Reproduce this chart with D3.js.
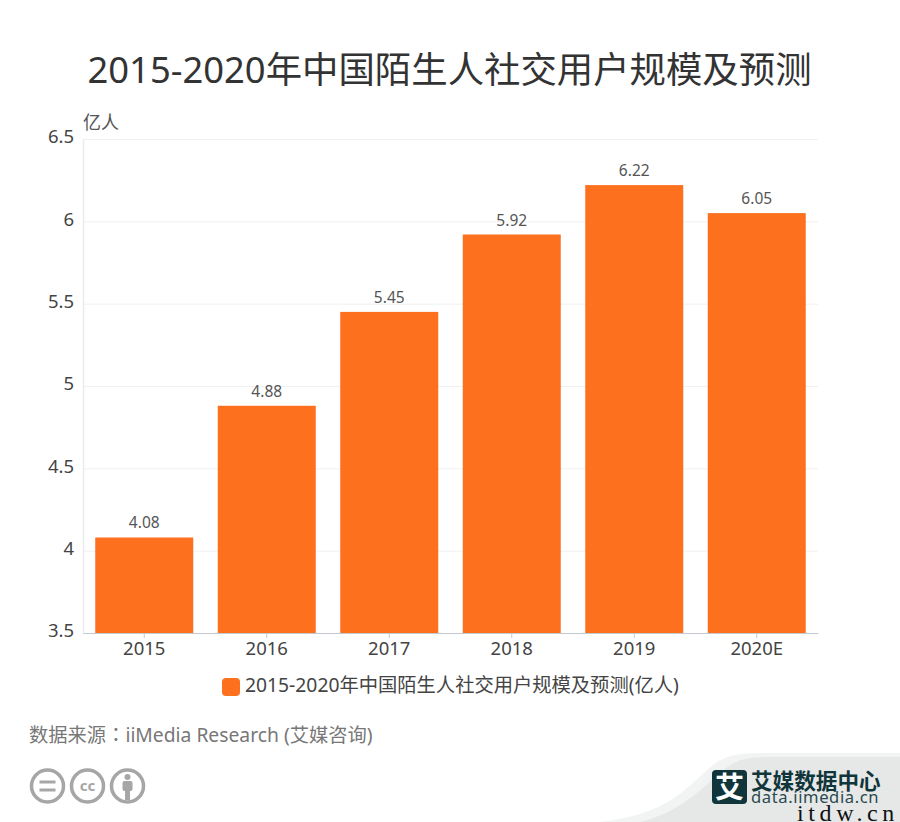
<!DOCTYPE html>
<html>
<head>
<meta charset="utf-8">
<style>
  html, body { margin: 0; padding: 0; background: #fff; overflow: hidden; }
  text { font-family: "Noto Sans", "Noto Sans CJK SC", sans-serif; }
</style>
<script src="https://cdn.jsdelivr.net/npm/d3@7/dist/d3.min.js"></script>
</head>
<body>
<svg id="chart"></svg>
<script>
const categories = ["2015", "2016", "2017", "2018", "2019", "2020E"];
const users = [4.08, 4.88, 5.45, 5.92, 6.22, 6.05];
const yTicks = [3.5, 4, 4.5, 5, 5.5, 6, 6.5];
const titleText = "2015-2020年中国陌生人社交用户规模及预测";
const legendText = "2015-2020年中国陌生人社交用户规模及预测(亿人)";
const unitText = "亿人";
const sourceLabel = "数据来源";
const sourceName = "iiMedia Research (艾媒咨询)";

var svgWidth = 900, svgHeight = 822;
var margin = { top: 139, right: 82, bottom: 189, left: 83 };
var width = svgWidth - margin.left - margin.right;
var height = svgHeight - margin.top - margin.bottom;

var svg = d3.select("#chart")
    .attr("width", svgWidth)
    .attr("height", svgHeight)
    .style("display", "block");

// footer swoosh goes under everything else
svg.append("path")
    .attr("fill", "#f2f3f3")
    .attr("d", "M600,822 C660,815 680,795 705,772 C720,758 730,753 760,753 L900,753 L900,822 Z");
svg.append("path")
    .attr("fill", "#e6e8e8")
    .attr("d", "M640,822 C680,812 700,790 720,773 C735,760 745,757 770,757 L900,757 L900,822 Z");

svg.append("text")
    .attr("x", 449.5)
    .attr("y", 83)
    .attr("text-anchor", "middle")
    .attr("font-size", 36.4)
    .attr("fill", "#333")
    .text(titleText);

var g = svg.append("g")
    .attr("transform", "translate(" + margin.left + "," + margin.top + ")");

var x = d3.scaleBand()
    .domain(categories)
    .range([0, width])
    .paddingInner(0.2)
    .paddingOuter(0.1);

var y = d3.scaleLinear()
    .domain([3.5, 6.5])
    .range([height, 0]);

// gridlines
g.append("g")
    .selectAll("line")
    .data(yTicks.slice(1))
    .join("line")
    .attr("x1", 0)
    .attr("x2", width)
    .attr("y1", d => y(d) + 0.5)
    .attr("y2", d => y(d) + 0.5)
    .attr("stroke", "#f0f0f0");

// y axis
var yAxis = g.append("g")
    .call(d3.axisLeft(y).tickValues(yTicks).tickFormat(d3.format("")).tickSize(0).tickPadding(9));
yAxis.select(".domain").attr("stroke", "#ebebeb").attr("stroke-width", 1.5);
yAxis.selectAll("text")
    .attr("font-size", 18.5)
    .attr("fill", "#444")
    .attr("dy", "0.2em")
    .style("font-family", '"Noto Sans", sans-serif');

// bars
g.append("g")
    .selectAll("rect")
    .data(users)
    .join("rect")
    .attr("x", (d, i) => x(categories[i]))
    .attr("y", d => y(d))
    .attr("width", x.bandwidth())
    .attr("height", d => height - y(d))
    .attr("fill", "#fc701e");

// value labels
g.append("g")
    .selectAll("text")
    .data(users)
    .join("text")
    .attr("x", (d, i) => x(categories[i]) + x.bandwidth() / 2)
    .attr("y", d => y(d) - 9)
    .attr("text-anchor", "middle")
    .attr("font-size", 15.5)
    .attr("fill", "#555")
    .text(d => d3.format(".2f")(d));

// x axis
var xAxis = g.append("g")
    .attr("transform", "translate(0," + height + ")")
    .call(d3.axisBottom(x).tickSize(5).tickSizeOuter(0).tickPadding(4));
xAxis.select(".domain").attr("stroke", "#c4c9cf");
xAxis.selectAll("line").attr("stroke", "#c4c9cf");
xAxis.selectAll("text")
    .attr("font-size", 18.5)
    .attr("fill", "#444");

svg.append("text")
    .attr("x", 83)
    .attr("y", 129)
    .attr("font-size", 18)
    .attr("fill", "#555")
    .text(unitText);

// legend
svg.append("rect")
    .attr("x", 222)
    .attr("y", 678)
    .attr("width", 18)
    .attr("height", 18)
    .attr("rx", 4)
    .attr("fill", "#fc701e");
svg.append("text")
    .attr("x", 245)
    .attr("y", 692)
    .attr("font-size", 19.3)
    .attr("fill", "#444")
    .text(legendText);

// the TC font centres the full-width colon in its cell
var source = svg.append("text")
    .attr("x", 29)
    .attr("y", 742)
    .attr("font-size", 19.3)
    .attr("fill", "#777");
source.append("tspan").text(sourceLabel);
source.append("tspan").style("font-family", '"Noto Sans CJK TC"').text("：");
source.append("tspan").text(sourceName);

// licence badges
var badges = svg.append("g")
    .selectAll("g")
    .data(["=", "cc", "i"])
    .join("g")
    .attr("transform", (d, i) => "translate(" + (47.5 + i * 40) + ",786)");
badges.append("circle")
    .attr("r", 16)
    .attr("fill", "#fff")
    .attr("stroke", "#a6a6a6")
    .attr("stroke-width", 3.5);
badges.filter(d => d == "=").selectAll("line")
    .data([-4, 4])
    .join("line")
    .attr("x1", -8).attr("x2", 8)
    .attr("y1", d => d).attr("y2", d => d)
    .attr("stroke", "#a6a6a6")
    .attr("stroke-width", 3);
badges.filter(d => d == "cc").append("text")
    .attr("text-anchor", "middle")
    .attr("y", 5)
    .attr("font-size", 15)
    .attr("font-weight", 700)
    .attr("fill", "#a6a6a6")
    .text("cc");
var person = badges.filter(d => d == "i");
person.append("circle").attr("cy", -9).attr("r", 3).attr("fill", "#a6a6a6");
person.append("rect").attr("x", -5).attr("y", -5).attr("width", 10).attr("height", 10).attr("rx", 2).attr("fill", "#a6a6a6");
person.append("rect").attr("x", -2.5).attr("y", 4).attr("width", 5).attr("height", 10).attr("fill", "#a6a6a6");

// brand logo
var logo = svg.append("g");
logo.append("rect")
    .attr("x", 712).attr("y", 770)
    .attr("width", 35).attr("height", 34)
    .attr("rx", 4)
    .attr("fill", "#10353a");
logo.append("text")
    .attr("x", 729.5).attr("y", 798)
    .attr("text-anchor", "middle")
    .attr("font-size", 29)
    .attr("font-weight", 700)
    .attr("fill", "#fff")
    .text("艾");
logo.append("text")
    .attr("x", 751).attr("y", 789)
    .attr("font-size", 21.6)
    .attr("font-weight", 700)
    .attr("fill", "#10353a")
    .text("艾媒数据中心");
logo.append("text")
    .attr("x", 751).attr("y", 803)
    .attr("font-size", 16.6)
    .attr("letter-spacing", 0.6)
    .attr("fill", "#2a4a50")
    .text("data.iimedia.cn");

// site stamp along the bottom edge
svg.append("text")
    .attr("x", 797)
    .attr("y", 821)
    .attr("font-size", 24)
    .attr("letter-spacing", 4.6)
    .attr("fill", "#111")
    .style("font-family", '"Liberation Serif", serif')
    .text("itdw.cn");
</script>
</body>
</html>
